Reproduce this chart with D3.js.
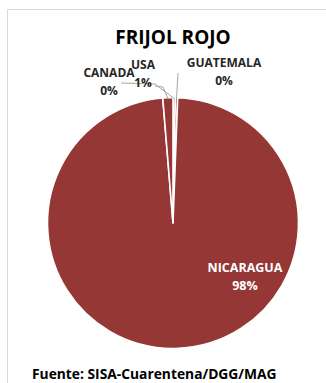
<!DOCTYPE html>
<html><head><meta charset="utf-8">
<script src="https://cdn.jsdelivr.net/npm/d3@7"></script>
<style>html,body{margin:0;padding:0;background:#fff;}svg{display:block;}</style>
</head><body>
<script>
const categories = ["CANADA", "GUATEMALA", "NICARAGUA", "USA"];
const values = [0.3, 0.3, 98.1, 1.3];
const pctLabels = ["0%", "0%", "98%", "1%"];
const title = "FRIJOL ROJO";
const source = "Fuente: SISA-Cuarentena/DGG/MAG";

const W = 326, H = 383;
const svg = d3.select("body").append("svg").attr("width", W).attr("height", H);
const font = "'Open Sans', 'Liberation Sans', sans-serif";

// chart border
svg.append("path").attr("d", `M7.5,${H} V9.5 H${W}`).attr("fill", "none")
  .attr("stroke", "#d9d9d9").attr("stroke-width", 1);

svg.append("text").attr("x", 173).attr("y", 43.5).attr("text-anchor", "middle")
  .attr("font-family", font).attr("font-weight", "bold").attr("font-size", 19)
  .attr("fill", "#000").text(title);

const cx = 173, cy = 223, R = 125.5;
const data = categories.map((c, i) => ({cat: c, v: values[i], lab: pctLabels[i]}));
const pie = d3.pie().sort(null).value(d => d.v).startAngle(0).endAngle(2 * Math.PI);
const arcs = pie(data);
const arc = d3.arc().innerRadius(0).outerRadius(R);
const g = svg.append("g").attr("transform", `translate(${cx},${cy})`);
g.selectAll("path").data(arcs).join("path").attr("d", arc)
  .attr("fill", "#953735").attr("stroke", "#fff").attr("stroke-width", 1.6)
  .attr("stroke-linejoin", "round");

// label layout (relative to pie centre)
const layout = {
  CANADA:    {x: -64, y: -146, lines: [[-52, -140], [-18, -139]]},
  USA:       {x: -30, y: -154, lines: [[-18, -137], [-10, -136]]},
  GUATEMALA: {x: 51,  y: -156, lines: [[5, -150]]},
  NICARAGUA: {x: 72,  y: 49,   lines: []}
};
const lab = svg.append("g").attr("transform", `translate(${cx},${cy})`);
arcs.forEach(a => {
  const L = layout[a.data.cat];
  const mid = (a.startAngle + a.endAngle) / 2;
  const edge = [Math.sin(mid) * (R - 1), -Math.cos(mid) * (R - 1)];
  if (L.lines.length) {
    const pts = L.lines.concat([edge]);
    lab.append("path").attr("d", d3.line()(pts)).attr("fill", "none")
      .attr("stroke", "#a6a6a6").attr("stroke-width", 1);
  }
  const inside = a.data.cat === "NICARAGUA";
  const t = lab.append("text").attr("text-anchor", "middle")
    .attr("font-family", font).attr("font-weight", "bold")
    .attr("font-size", inside ? 12.5 : 12)
    .attr("fill", inside ? "#fff" : "#262626");
  t.append("tspan").attr("x", L.x).attr("y", L.y).text(a.data.cat);
  t.append("tspan").attr("x", L.x).attr("y", L.y + 18).text(a.data.lab);
});

svg.append("text").attr("x", 32).attr("y", 378.5)
  .attr("font-family", font).attr("font-weight", "bold").attr("font-size", 13.8)
  .attr("fill", "#000").text(source);
</script>
</body></html>
